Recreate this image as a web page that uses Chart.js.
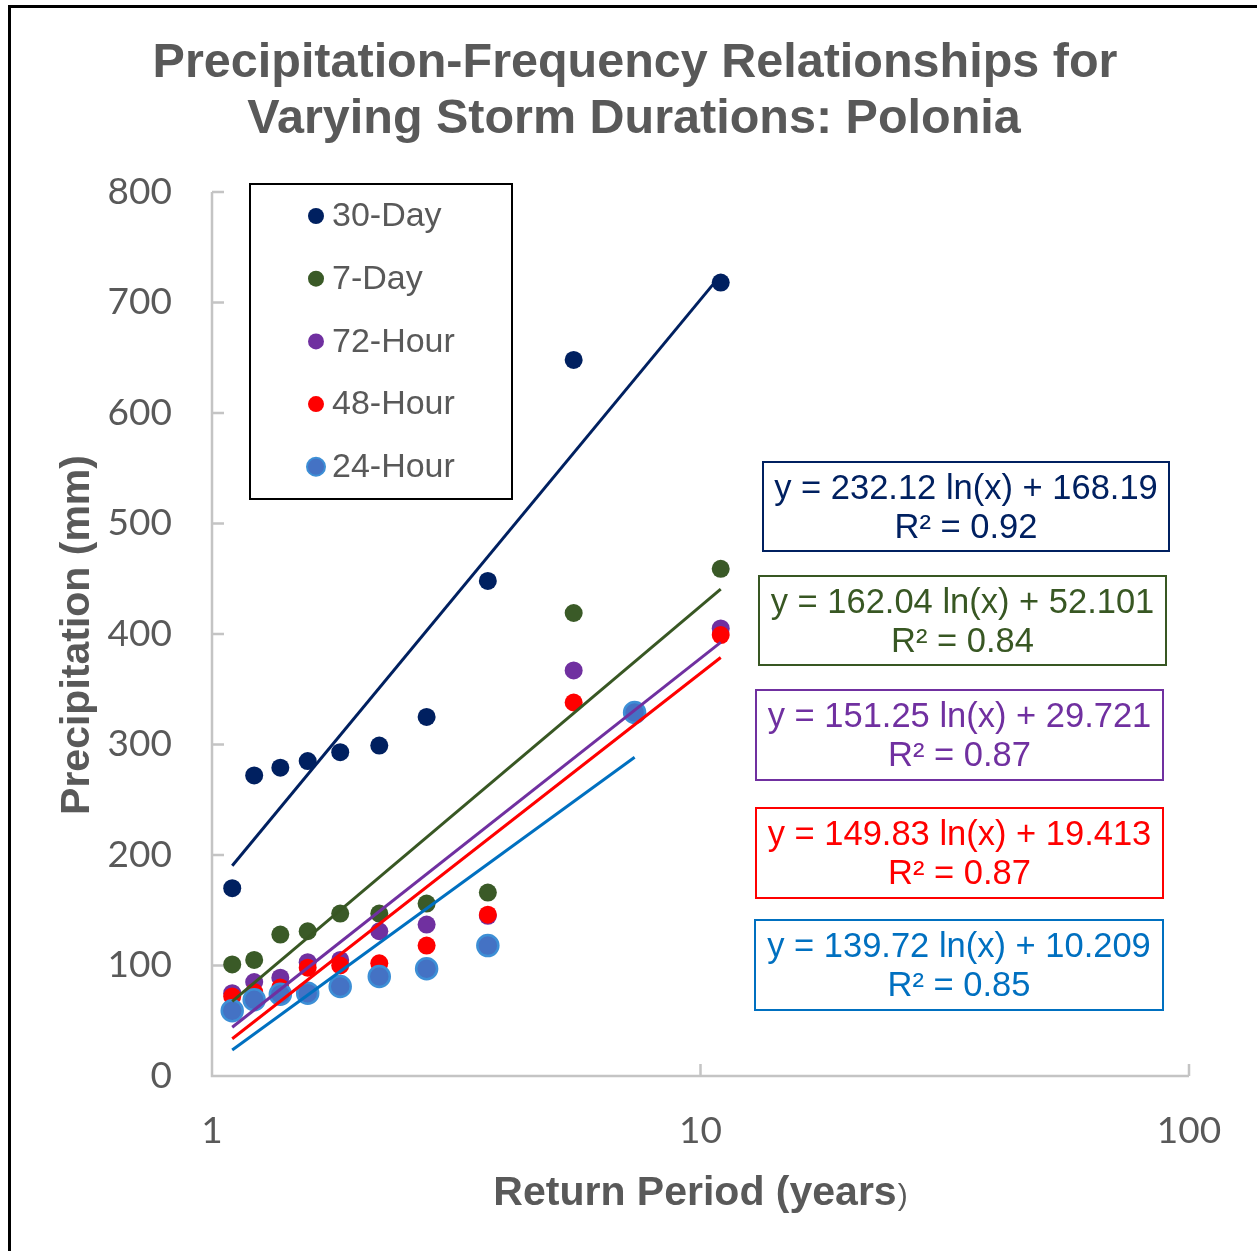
<!DOCTYPE html>
<html>
<head>
<meta charset="utf-8">
<script src="https://cdn.jsdelivr.net/npm/chart.js@4.4.1/dist/chart.umd.min.js"></script>
<style>
  html, body { margin: 0; padding: 0; background: #fff; }
  #wrap { width: 1257px; height: 1251px; position: relative; }
</style>
</head>
<body>
<div id="wrap"><canvas id="chart"></canvas></div>
<script>
// Return periods (years), plotting positions
const returnPeriods = [1.1, 1.22, 1.38, 1.57, 1.83, 2.2, 2.75, 3.67, 5.5, 11];
const returnPeriods24 = [1.1, 1.22, 1.38, 1.57, 1.83, 2.2, 2.75, 3.67, 7.33];

// Precipitation (mm) per storm duration
const day30  = [170, 272, 279, 285, 293, 299, 325, 448, 648, 718];
const day7   = [101, 105, 128, 131, 147, 147, 156, 166, 419, 459];
const hour72 = [75, 85, 89, 103, 105, 131, 137, 145, 367, 405];
const hour48 = [72, 76, 80, 98, 100, 102, 118, 146, 338, 399];
const hour24 = [59, 69, 74, 75, 81, 90, 97, 118, 329];

const seriesNames = ['30-Day', '7-Day', '72-Hour', '48-Hour', '24-Hour'];
const seriesColors = ['#002060', '#385723', '#7030a0', '#ff0000', '#0070c0'];
const markerColors = ['#002060', '#3a5a27', '#7030a0', '#ff0000', '#4472c4'];

// Log trendlines y = a ln(x) + b (from the chart)
const slopes = [232.12, 162.04, 151.25, 149.83, 139.72];
const intercepts = [168.19, 52.101, 29.721, 19.413, 10.209];
const rSquared = ['0.92', '0.84', '0.87', '0.87', '0.85'];

const xTicks = [1, 10, 100];

const GRAY = '#595959';
const AXIS = '#c4c4c4';

const xSets = [returnPeriods, returnPeriods, returnPeriods, returnPeriods, returnPeriods24];
const ySets = [day30, day7, hour72, hour48, hour24];

const datasets = [];
// trendlines on top
for (let i = 0; i < 5; i++) {
    const xs = xSets[i];
    const x0 = xs[0], x1 = xs[xs.length - 1];
    datasets.push({
        type: 'line',
        label: seriesNames[i] + ' trend',
        data: [x0, x1].map(x => ({ x: x, y: slopes[i] * Math.log(x) + intercepts[i] })),
        borderColor: seriesColors[i],
        borderWidth: 3,
        pointRadius: 0,
        fill: false,
        order: 0
    });
}
// markers, 24-Hour drawn above the others
for (let i = 0; i < 5; i++) {
    datasets.push({
        type: 'scatter',
        label: seriesNames[i],
        data: xSets[i].map((x, j) => ({ x: x, y: ySets[i][j] })),
        backgroundColor: markerColors[i],
        borderColor: i === 4 ? '#3d8fd6' : markerColors[i],
        borderWidth: i === 4 ? 2.5 : 0,
        pointRadius: i === 4 ? 10.5 : 9,
        order: 5 - i + 1
    });
}

// equation boxes: [left, top, right, bottom]
const eqBoxes = [
    [763, 462, 1169, 551],
    [759, 576, 1166, 665],
    [756, 690, 1163, 780],
    [756, 808, 1163, 898],
    [755, 920, 1163, 1010]
];

const decorPlugin = {
    id: 'decor',
    beforeDatasetsDraw(chart) {
        const ctx = chart.ctx;
        const xs = chart.scales.x, ys = chart.scales.y;
        const a = chart.chartArea;
        ctx.save();
        ctx.strokeStyle = AXIS;
        ctx.lineWidth = 2.5;
        ctx.beginPath();
        ctx.moveTo(a.left, a.top);
        ctx.lineTo(a.left, a.bottom);
        ctx.lineTo(a.right, a.bottom);
        for (let v = 0; v <= 800; v += 100) {
            const py = ys.getPixelForValue(v);
            ctx.moveTo(a.left, py);
            ctx.lineTo(a.left + 12, py);
        }
        xTicks.forEach(v => {
            const px = xs.getPixelForValue(v);
            ctx.moveTo(px, a.bottom);
            ctx.lineTo(px, a.bottom - 12);
        });
        ctx.stroke();
        ctx.restore();
    },
    afterDraw(chart) {
        const ctx = chart.ctx;
        ctx.save();
        // outer frame (top and left edges)
        ctx.fillStyle = '#000';
        ctx.fillRect(8, 5, 1249, 3);
        ctx.fillRect(8, 5, 3, 1246);

        // title
        ctx.fillStyle = GRAY;
        ctx.textAlign = 'center';
        ctx.textBaseline = 'middle';
        ctx.font = 'bold 48.5px "Liberation Sans", Arial, sans-serif';
        ctx.fillText('Precipitation-Frequency Relationships for', 635, 64);
        ctx.fillText('Varying Storm Durations: Polonia', 634, 120);

        // y axis title
        ctx.save();
        ctx.translate(78, 635);
        ctx.rotate(-Math.PI / 2);
        ctx.font = 'bold 41px "Liberation Sans", Arial, sans-serif';
        ctx.fillText('Precipitation (mm)', 0, 0);
        ctx.restore();

        // x axis title, closing bracket smaller and plain
        ctx.font = 'bold 41px "Liberation Sans", Arial, sans-serif';
        const main = 'Return Period (years';
        const wMain = ctx.measureText(main).width;
        ctx.font = '30px "Liberation Sans", Arial, sans-serif';
        const wEnd = ctx.measureText(')').width;
        const startX = 700 - (wMain + wEnd) / 2;
        ctx.textAlign = 'left';
        ctx.textBaseline = 'alphabetic';
        ctx.font = 'bold 41px "Liberation Sans", Arial, sans-serif';
        ctx.fillText(main, startX, 1205);
        ctx.font = '30px "Liberation Sans", Arial, sans-serif';
        ctx.fillText(')', startX + wMain + 1, 1205);

        // legend box
        ctx.strokeStyle = '#000';
        ctx.lineWidth = 2;
        ctx.strokeRect(250, 184, 262, 315);
        ctx.font = '34px "Liberation Sans", Arial, sans-serif';
        ctx.textBaseline = 'middle';
        ctx.textAlign = 'left';
        seriesNames.forEach((name, i) => {
            const cy = 216 + i * 62.7;
            ctx.beginPath();
            ctx.arc(316, cy, i === 4 ? 9 : 8, 0, Math.PI * 2);
            ctx.fillStyle = markerColors[i];
            ctx.fill();
            if (i === 4) {
                ctx.strokeStyle = '#3d8fd6';
                ctx.lineWidth = 2;
                ctx.stroke();
            }
            ctx.fillStyle = GRAY;
            ctx.fillText(name, 332, cy + 1);
        });

        // equation boxes
        ctx.textAlign = 'center';
        eqBoxes.forEach((b, i) => {
            ctx.strokeStyle = seriesColors[i];
            ctx.lineWidth = 2;
            ctx.strokeRect(b[0], b[1], b[2] - b[0], b[3] - b[1]);
            const cx = (b[0] + b[2]) / 2;
            ctx.fillStyle = seriesColors[i];
            ctx.font = '34.5px "Liberation Sans", Arial, sans-serif';
            ctx.fillText('y = ' + slopes[i] + ' ln(x) + ' + intercepts[i], cx, b[1] + 27);
            ctx.fillText('R\u00b2 = ' + rSquared[i], cx, b[1] + 66);
        });
        ctx.restore();
    }
};

new Chart(document.getElementById('chart'), {
    type: 'scatter',
    data: { datasets: datasets },
    options: {
        responsive: true, maintainAspectRatio: false,
        animation: false,
        layout: { padding: { top: 192, right: 68, left: 0, bottom: 0 } },
        plugins: { legend: { display: false }, title: { display: false }, tooltip: { enabled: false } },
        scales: {
            x: {
                type: 'logarithmic',
                min: 1, max: 100,
                afterBuildTicks: s => { s.ticks = xTicks.map(v => ({ value: v })); },
                afterFit: s => { s.height = 175; },
                grid: { display: false, drawTicks: false },
                border: { display: false },
                ticks: {
                    color: GRAY,
                    font: { family: 'Lato', size: 37 },
                    padding: 33,
                    maxRotation: 0,
                    callback: v => String(v)
                }
            },
            y: {
                min: 0, max: 800,
                afterFit: s => { s.width = 212; },
                grid: { display: false, drawTicks: false },
                border: { display: false },
                ticks: {
                    stepSize: 100,
                    color: GRAY,
                    font: { family: 'Lato', size: 37 },
                    padding: 40
                }
            }
        }
    },
    plugins: [decorPlugin]
});
</script>
</body>
</html>
